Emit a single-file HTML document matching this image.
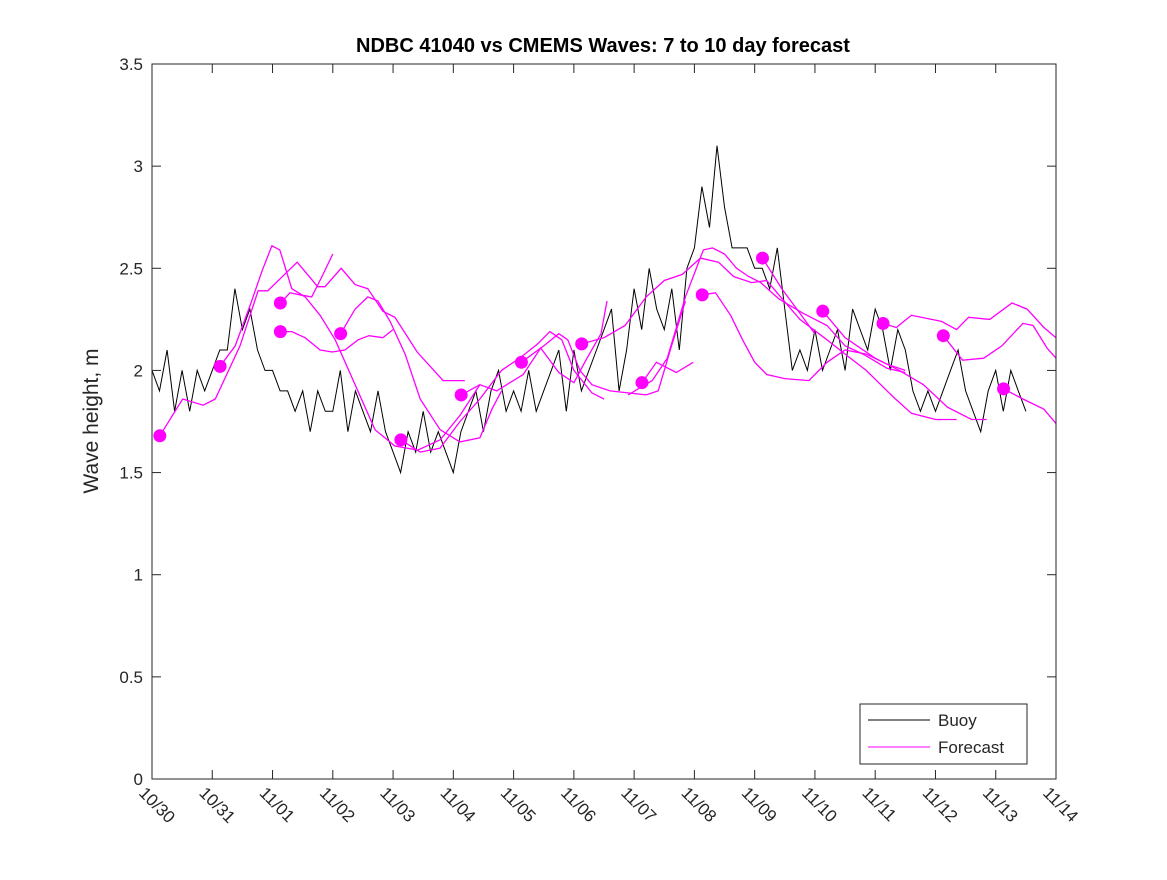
<!DOCTYPE html>
<html><head><meta charset="utf-8"><style>
body{margin:0;background:#fff;}
svg text{font-family:"Liberation Sans","DejaVu Sans",sans-serif;}
</style></head><body>
<svg id="chart" width="1167" height="875" xmlns="http://www.w3.org/2000/svg">
<rect width="1167" height="875" fill="#fff"/>
<text x="603" y="52" text-anchor="middle" font-size="20" font-weight="bold">NDBC 41040 vs CMEMS Waves: 7 to 10 day forecast</text>
<text transform="translate(98,421) rotate(-90)" text-anchor="middle" font-size="21" fill="#262626">Wave height, m</text>
<g id="axes"></g>
<g id="plot"></g>
<rect x="152" y="64" width="904" height="715" fill="none" stroke="#262626" stroke-width="1"/>
<g>
<rect x="860" y="704" width="167" height="60" fill="#fff" stroke="#262626"/>
<line x1="868" y1="720" x2="930" y2="720" stroke="#000"/>
<text x="938" y="726" font-size="17" fill="#262626">Buoy</text>
<line x1="868" y1="747" x2="930" y2="747" stroke="#f0f"/>
<text x="938" y="753" font-size="17" fill="#262626">Forecast</text>
</g>
</svg>
<script>
const xTickLabels=["10/30","10/31","11/01","11/02","11/03","11/04","11/05","11/06","11/07","11/08","11/09","11/10","11/11","11/12","11/13","11/14"];
const yTicks=[0,0.5,1,1.5,2,2.5,3,3.5];
const yTickLabels=["0","0.5","1","1.5","2","2.5","3","3.5"];
const buoyStepDays=0.125;
const buoyValues=[2.0,1.9,2.1,1.8,2.0,1.8,2.0,1.9,
2.0,2.1,2.1,2.4,2.2,2.3,2.1,2.0,
2.0,1.9,1.9,1.8,1.9,1.7,1.9,1.8,
1.8,2.0,1.7,1.9,1.8,1.7,1.9,1.7,
1.6,1.5,1.7,1.6,1.8,1.6,1.7,1.6,
1.5,1.7,1.8,1.9,1.7,1.9,2.0,1.8,
1.9,1.8,2.0,1.8,1.9,2.0,2.1,1.8,
2.1,1.9,2.0,2.1,2.2,2.3,1.9,2.1,
2.4,2.2,2.5,2.3,2.2,2.4,2.1,2.5,
2.6,2.9,2.7,3.1,2.8,2.6,2.6,2.6,
2.5,2.5,2.4,2.6,2.3,2.0,2.1,2.0,
2.2,2.0,2.1,2.2,2.0,2.3,2.2,2.1,
2.3,2.2,2.0,2.2,2.1,1.9,1.8,1.9,
1.8,1.9,2.0,2.1,1.9,1.8,1.7,1.9,
2.0,1.8,2.0,1.9,1.8];
const dotDays=[0.13,1.13,2.13,2.13,3.13,4.13,5.13,6.13,7.13,8.13,9.13,10.13,11.13,12.13,13.13,14.13];
const dotValues=[1.68,2.02,2.33,2.19,2.18,1.66,1.88,2.04,2.13,1.94,2.37,2.55,2.29,2.23,2.17,1.91];
const forecast1=[[0.13,1.68],[0.51,1.86],[0.85,1.83],[1.05,1.86],[1.46,2.12],[1.76,2.39],[1.92,2.39],[2.41,2.53],[2.75,2.41],[2.87,2.41],[3.14,2.50],[3.37,2.42],[3.58,2.40],[3.83,2.29],[4.03,2.26],[4.40,2.09],[4.83,1.95],[5.19,1.95]];
const forecast2=[[1.13,2.02],[1.38,2.12],[1.63,2.32],[1.83,2.49],[1.99,2.61],[2.12,2.59],[2.32,2.40],[2.54,2.36],[2.79,2.27],[3.04,2.15],[3.37,1.93],[3.70,1.71],[4.03,1.63],[4.41,1.61],[4.78,1.66],[5.11,1.78],[5.44,1.93]];
const forecast3=[[2.13,2.33],[2.29,2.38],[2.45,2.37],[2.65,2.36],[2.82,2.46],[3.0,2.57]];
const forecast4=[[2.13,2.19],[2.32,2.19],[2.54,2.16],[2.79,2.10],[2.99,2.09],[3.2,2.10],[3.42,2.15],[3.60,2.17],[3.83,2.16],[4.0,2.20]];
const forecast5=[[3.13,2.18],[3.37,2.30],[3.58,2.36],[3.75,2.34],[3.95,2.24],[4.2,2.08],[4.45,1.86],[4.78,1.71],[5.11,1.65],[5.44,1.67],[5.64,1.81],[5.8,1.90]];
const forecast6=[[4.13,1.66],[4.45,1.60],[4.78,1.62],[5.11,1.75],[5.44,1.86],[5.8,2.0],[6.1,2.06],[6.4,2.13],[6.6,2.19],[6.8,2.15],[7.0,2.0],[7.3,1.89],[7.5,1.86]];
const forecast7=[[5.13,1.88],[5.44,1.93],[5.72,1.90],[6.16,1.98],[6.45,2.11],[6.75,1.99],[7.0,1.94],[7.2,2.05],[7.45,2.18],[7.55,2.34]];
const forecast8=[[6.13,2.04],[6.5,2.12],[6.75,2.18],[6.9,2.15],[7.1,2.0],[7.3,1.93],[7.6,1.90],[7.9,1.89],[8.2,1.88],[8.4,1.90],[8.6,2.1],[8.85,2.34]];
const forecast9=[[7.13,2.13],[7.5,2.16],[7.85,2.22],[8.2,2.36],[8.5,2.44],[8.8,2.47],[9.1,2.55],[9.4,2.53],[9.65,2.46],[9.95,2.43],[10.2,2.44],[10.4,2.37],[10.75,2.25],[11.2,2.15],[11.5,2.08],[11.85,2.0],[12.3,1.87],[12.6,1.79],[13.0,1.76],[13.35,1.76]];
const forecast10=[[8.13,1.94],[8.37,2.04],[8.7,1.99],[8.98,2.04]];
const forecast11=[[7.9,1.88],[8.3,1.95],[8.55,2.06],[8.85,2.36],[9.15,2.59],[9.3,2.60],[9.5,2.57],[9.7,2.50],[9.9,2.46],[10.1,2.43],[10.4,2.35],[10.8,2.28],[11.2,2.22],[11.5,2.12],[11.8,2.08],[12.2,2.01],[12.5,1.99]];
const forecast12=[[9.13,2.37],[9.35,2.38],[9.6,2.27],[9.8,2.15],[10.0,2.04],[10.2,1.98],[10.5,1.96],[10.9,1.95],[11.2,2.04],[11.5,2.10],[11.85,2.08],[12.2,2.03],[12.5,2.0]];
const forecast13=[[10.13,2.55],[10.45,2.40],[10.75,2.28],[11.0,2.18]];
const forecast14=[[11.13,2.29],[11.5,2.16],[12.0,2.06],[12.4,2.0],[12.8,1.93],[13.2,1.82],[13.6,1.76],[13.85,1.76]];
const forecast15=[[12.13,2.23],[12.35,2.21],[12.6,2.27],[13.1,2.24],[13.35,2.20],[13.55,2.26],[13.9,2.25],[14.27,2.33],[14.52,2.30],[14.8,2.21],[15.0,2.16]];
const forecast16=[[13.13,2.17],[13.45,2.05],[13.8,2.06],[14.1,2.12],[14.45,2.23],[14.62,2.22],[14.85,2.11],[15.0,2.06]];
const forecast17=[[14.13,1.91],[14.45,1.86],[14.8,1.81],[15.0,1.74]];
const forecasts=[forecast1,forecast2,forecast3,forecast4,forecast5,forecast6,forecast7,forecast8,forecast9,forecast10,forecast11,forecast12,forecast13,forecast14,forecast15,forecast16,forecast17];

const NS="http://www.w3.org/2000/svg";
const X0=152,X1=1056,Y0=779,Y1=64,DMAX=15,VMAX=3.5;
function xs(d){return X0+(X1-X0)*d/DMAX;}
function ys(v){return Y0-(Y0-Y1)*v/VMAX;}
function mk(tag,attrs,parent){const e=document.createElementNS(NS,tag);for(const k in attrs)e.setAttribute(k,attrs[k]);parent.appendChild(e);return e;}
const axes=document.getElementById('axes'),plot=document.getElementById('plot');
xTickLabels.forEach((lab,i)=>{
  const x=xs(i);
  let t=mk('line',{x1:x,y1:Y0,x2:x,y2:Y0-9,stroke:'#262626'},axes);
  
  
  t=mk('line',{x1:x,y1:Y1,x2:x,y2:Y1+9,stroke:'#262626'},axes);
  
  
  const tx=mk('text',{transform:`translate(${x-14},${Y0+15}) rotate(45)`,'font-size':17,fill:'#262626'},axes);
  tx.textContent=lab;
  
  
});
yTicks.forEach((v,i)=>{
  const y=ys(v);
  let t=mk('line',{x1:X0,y1:y,x2:X0+9,y2:y,stroke:'#262626'},axes);
  
  
  t=mk('line',{x1:X1,y1:y,x2:X1-9,y2:y,stroke:'#262626'},axes);
  
  
  const tx=mk('text',{x:X0-9,y:y+6,'text-anchor':'end','font-size':17,fill:'#262626'},axes);
  tx.textContent=yTickLabels[i];
  
  
});
const bp=buoyValues.map((v,i)=>xs(i*buoyStepDays).toFixed(1)+','+ys(v).toFixed(1)).join(' ');
const bl=mk('polyline',{points:bp,fill:'none',stroke:'#000','stroke-width':1},plot);


forecasts.forEach(f=>{
  const p=f.map(q=>xs(q[0]).toFixed(1)+','+ys(q[1]).toFixed(1)).join(' ');
  const l=mk('polyline',{points:p,fill:'none',stroke:'#f0f','stroke-width':1.3},plot);
  
  
});
dotDays.forEach((d,i)=>{
  const c=mk('circle',{cx:xs(d),cy:ys(dotValues[i]),r:6.5,fill:'#f0f'},plot);
  
  
});
</script>
</body></html>
